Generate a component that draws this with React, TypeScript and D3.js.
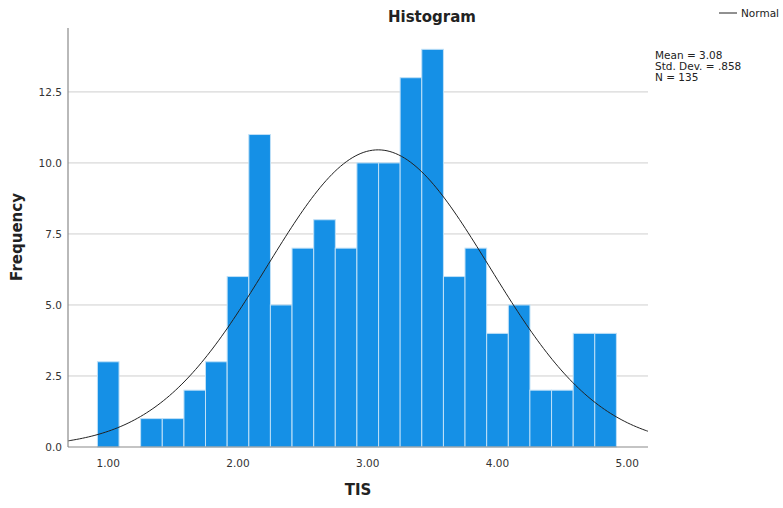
import React from "react";
import * as d3 from "d3";

// bin centres (TIS) and counts
const binCenters = [1.0, 1.167, 1.333, 1.5, 1.667, 1.833, 2.0, 2.167, 2.333, 2.5, 2.667, 2.833,
  3.0, 3.167, 3.333, 3.5, 3.667, 3.833, 4.0, 4.167, 4.333, 4.5, 4.667, 4.833];
const counts = [3, 0, 1, 1, 2, 3, 6, 11, 5, 7, 8, 7, 10, 10, 13, 14, 6, 7, 4, 5, 2, 2, 4, 4];
const binWidth = 1 / 6;

const xTicks = [1, 2, 3, 4, 5];
const yTicks = [0, 2.5, 5, 7.5, 10, 12.5];

const mean = 3.08;
const sd = 0.858;
const n = 135;
const statLines = ["Mean = 3.08", "Std. Dev. = .858", "N = 135"];

const W = 783;
const H = 508;
const margin = { left: 68, right: 135, top: 28, bottom: 61 };

export default function App() {
  const x = d3.scaleLinear().domain([0.69, 5.16]).range([margin.left, W - margin.right]);
  const y = d3.scaleLinear().domain([0, 14.75]).range([H - margin.bottom, margin.top]);

  const pdf = (v: number) =>
    (n * binWidth) / (sd * Math.sqrt(2 * Math.PI)) * Math.exp(-0.5 * ((v - mean) / sd) ** 2);
  const curvePts = d3.range(0, 201).map(i => {
    const v = 0.69 + (i / 200) * (5.16 - 0.69);
    return [v, pdf(v)] as [number, number];
  });
  const line = d3.line<[number, number]>().x(d => x(d[0])).y(d => y(d[1])).curve(d3.curveBasis);

  const font = "'DejaVu Sans', sans-serif";
  const x0 = margin.left;
  const x1 = W - margin.right;
  const yb = H - margin.bottom;

  return (
    <svg width={W} height={H} style={{ position: "absolute", left: 0, top: 0, background: "#fff" }}>
      {yTicks.map(t => (
        <g key={t}>
          {t > 0 && <line x1={x0} x2={x1} y1={y(t)} y2={y(t)} stroke="#cfcfcf" strokeWidth={1} />}
          <text x={x0 - 6} y={y(t)} dy="0.35em" textAnchor="end" fontSize={10.5} fontFamily={font} fill="#333">
            {t.toFixed(1)}
          </text>
        </g>
      ))}
      {counts.map((c, i) =>
        c > 0 ? (
          <rect
            key={i}
            x={x(binCenters[i] - binWidth / 2)}
            y={y(c)}
            width={x(binCenters[i] + binWidth / 2) - x(binCenters[i] - binWidth / 2)}
            height={yb - y(c)}
            fill="#1590e6"
            stroke="#bfe0f7"
            strokeWidth={1}
          />
        ) : null
      )}
      <path d={line(curvePts) || ""} fill="none" stroke="#222" strokeWidth={1} />
      <line x1={x0} x2={x0} y1={margin.top} y2={yb} stroke="#8a8a8a" strokeWidth={1.2} />
      <line x1={x0} x2={x1} y1={yb} y2={yb} stroke="#8a8a8a" strokeWidth={1.2} />
      {xTicks.map(t => (
        <text key={t} x={x(t)} y={yb + 16} dy="0.35em" textAnchor="middle" fontSize={10.5} fontFamily={font} fill="#333">
          {t.toFixed(2)}
        </text>
      ))}
      <text x={432} y={17} dy="0.35em" textAnchor="middle" fontSize={15} fontWeight="bold" fontFamily={font} fill="#222">
        Histogram
      </text>
      <text
        transform={`translate(17,237) rotate(-90)`}
        dy="0.35em"
        textAnchor="middle"
        fontSize={15}
        fontWeight="bold"
        fontFamily={font}
        fill="#222"
      >
        Frequency
      </text>
      <text x={358} y={490} dy="0.35em" textAnchor="middle" fontSize={15} fontWeight="bold" fontFamily={font} fill="#222">
        TIS
      </text>
      <line x1={719} x2={737} y1={13} y2={13} stroke="#222" strokeWidth={1} />
      <text x={741} y={13} dy="0.35em" fontSize={10.5} fontFamily={font} fill="#222">Normal</text>
      {statLines.map((s, i) => (
        <text key={s} x={655} y={55 + i * 11} dy="0.35em" fontSize={10.5} fontFamily={font} fill="#222">
          {s}
        </text>
      ))}
    </svg>
  );
}
